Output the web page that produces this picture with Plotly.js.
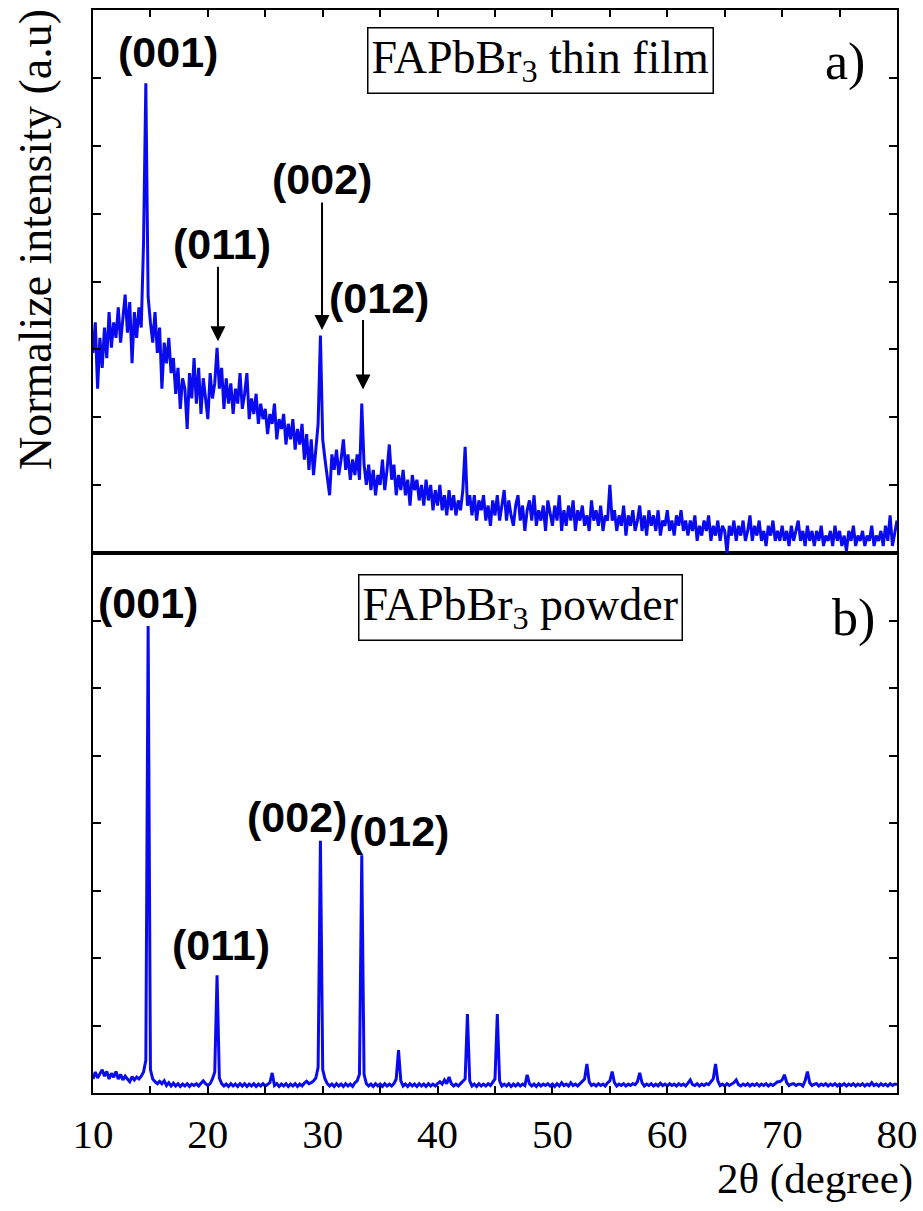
<!DOCTYPE html>
<html><head><meta charset="utf-8">
<script src="https://cdn.plot.ly/plotly-3.0.1.min.js"></script>
<style>html,body{margin:0;padding:0;background:#fff}</style>
</head><body><div id="chart" style="width:923px;height:1211px"></div>
<script>
// 2-theta sampling grid (degrees)
const twoThetaStart = 10;
const twoThetaStep = 0.2;

// a) FAPbBr3 thin film, normalized intensity (one value per 0.2 deg, 10..80)
const thinFilmIntensity = [
0.426,0.491,0.350,0.458,0.394, 0.480,0.415,0.513,0.437,0.491, 0.458,0.523,0.448,0.502,0.550, 0.469,0.534,0.404,0.513,0.458,
0.523,0.480,0.660,1.000,0.545, 0.491,0.448,0.513,0.426,0.480, 0.350,0.448,0.404,0.458,0.383, 0.415,0.339,0.394,0.307,0.372,
0.350,0.264,0.383,0.329,0.415, 0.318,0.394,0.296,0.372,0.329, 0.285,0.383,0.329,0.361,0.437, 0.350,0.394,0.307,0.372,0.318,
0.361,0.296,0.350,0.318,0.383, 0.307,0.339,0.383,0.285,0.329, 0.296,0.339,0.275,0.318,0.285, 0.307,0.253,0.296,0.275,0.318,
0.242,0.285,0.264,0.296,0.231, 0.275,0.242,0.285,0.220,0.264, 0.231,0.275,0.199,0.253,0.177, 0.242,0.166,0.220,0.275,0.463,
0.242,0.199,0.156,0.123,0.210, 0.177,0.220,0.166,0.199,0.242, 0.177,0.210,0.156,0.199,0.166, 0.210,0.156,0.318,0.188,0.145,
0.188,0.134,0.177,0.123,0.166, 0.145,0.199,0.134,0.177,0.231, 0.156,0.188,0.123,0.166,0.134, 0.177,0.123,0.156,0.101,0.166,
0.134,0.156,0.112,0.145,0.101, 0.156,0.112,0.145,0.091,0.134, 0.101,0.145,0.091,0.123,0.080, 0.134,0.091,0.123,0.080,0.112,
0.091,0.134,0.226,0.101,0.123, 0.080,0.123,0.069,0.112,0.091, 0.123,0.069,0.101,0.058,0.112, 0.080,0.123,0.069,0.101,0.134,
0.069,0.112,0.080,0.058,0.101, 0.123,0.069,0.101,0.047,0.091, 0.112,0.069,0.123,0.058,0.091, 0.069,0.101,0.047,0.112,0.080,
0.058,0.101,0.069,0.123,0.047, 0.091,0.058,0.101,0.069,0.112, 0.047,0.091,0.069,0.101,0.058, 0.080,0.047,0.112,0.069,0.091,
0.058,0.101,0.047,0.080,0.069, 0.145,0.069,0.091,0.047,0.080, 0.058,0.101,0.037,0.080,0.058, 0.091,0.047,0.069,0.101,0.047,
0.080,0.037,0.091,0.058,0.080, 0.047,0.091,0.037,0.069,0.058, 0.091,0.047,0.069,0.037,0.080, 0.058,0.091,0.047,0.069,0.037,
0.069,0.047,0.080,0.026,0.058, 0.037,0.069,0.047,0.080,0.026, 0.058,0.037,0.069,0.026,0.058, 0.047,0.000,0.058,0.037,0.069,
0.026,0.058,0.037,0.069,0.026, 0.047,0.080,0.026,0.058,0.037, 0.069,0.026,0.047,0.015,0.058, 0.037,0.069,0.026,0.047,0.026,
0.058,0.026,0.047,0.015,0.058, 0.026,0.047,0.069,0.026,0.047, 0.015,0.058,0.026,0.047,0.015, 0.047,0.026,0.058,0.015,0.037,
0.026,0.047,0.015,0.058,0.026, 0.047,0.015,0.037,0.004,0.047, 0.026,0.058,0.015,0.037,0.026, 0.047,0.015,0.037,0.026,0.058,
0.015,0.037,0.026,0.047,0.015, 0.058,0.026,0.080,0.015,0.047,
0.069
];

// b) FAPbBr3 powder, normalized intensity (one value per 0.2 deg, 10..80)
const powderIntensity = [
0.030,0.045,0.032,0.040,0.050, 0.036,0.046,0.030,0.042,0.034, 0.046,0.030,0.040,0.028,0.036, 0.030,0.024,0.035,0.028,0.034,
0.030,0.036,0.045,0.070,1.000, 0.050,0.030,0.024,0.020,0.025, 0.020,0.026,0.016,0.022,0.015, 0.021,0.015,0.020,0.014,0.019,
0.015,0.020,0.014,0.019,0.016, 0.020,0.015,0.021,0.026,0.020, 0.016,0.020,0.030,0.045,0.252, 0.032,0.020,0.015,0.019,0.014,
0.020,0.015,0.019,0.014,0.020, 0.015,0.020,0.014,0.019,0.015, 0.020,0.014,0.019,0.015,0.020, 0.015,0.019,0.022,0.043,0.016,
0.020,0.014,0.019,0.015,0.020, 0.014,0.019,0.015,0.020,0.014, 0.019,0.015,0.021,0.025,0.020, 0.022,0.026,0.032,0.055,0.540,
0.050,0.030,0.020,0.015,0.019, 0.014,0.020,0.015,0.019,0.014, 0.020,0.015,0.019,0.014,0.022, 0.026,0.040,0.509,0.040,0.020,
0.015,0.019,0.014,0.020,0.015, 0.019,0.014,0.020,0.015,0.019, 0.015,0.020,0.030,0.092,0.026, 0.015,0.019,0.014,0.020,0.015,
0.019,0.014,0.020,0.015,0.019, 0.014,0.020,0.015,0.019,0.015, 0.020,0.024,0.019,0.028,0.020, 0.034,0.020,0.015,0.019,0.015,
0.020,0.024,0.030,0.169,0.026, 0.015,0.019,0.014,0.020,0.015, 0.019,0.015,0.020,0.016,0.024, 0.030,0.169,0.026,0.015,0.019,
0.015,0.020,0.014,0.019,0.015, 0.020,0.015,0.019,0.016,0.039, 0.020,0.015,0.019,0.014,0.020, 0.015,0.019,0.016,0.020,0.015,
0.019,0.014,0.020,0.015,0.022, 0.016,0.019,0.015,0.022,0.016, 0.019,0.015,0.020,0.024,0.030, 0.062,0.024,0.016,0.019,0.015,
0.020,0.016,0.019,0.015,0.022, 0.026,0.046,0.022,0.015,0.019, 0.016,0.020,0.015,0.019,0.016, 0.020,0.018,0.024,0.043,0.022,
0.015,0.019,0.016,0.020,0.015, 0.019,0.015,0.021,0.016,0.019, 0.015,0.020,0.016,0.019,0.015, 0.020,0.016,0.019,0.015,0.021,
0.028,0.018,0.016,0.020,0.015, 0.019,0.016,0.020,0.018,0.024, 0.030,0.062,0.026,0.016,0.019, 0.015,0.020,0.016,0.019,0.022,
0.028,0.018,0.015,0.019,0.016, 0.020,0.015,0.019,0.016,0.020, 0.015,0.019,0.016,0.020,0.015, 0.019,0.016,0.020,0.024,0.024,
0.028,0.039,0.022,0.016,0.019, 0.020,0.016,0.019,0.019,0.015, 0.026,0.046,0.022,0.016,0.019, 0.020,0.015,0.019,0.016,0.020,
0.015,0.019,0.016,0.020,0.015, 0.019,0.016,0.020,0.015,0.019, 0.016,0.020,0.015,0.019,0.016, 0.020,0.015,0.019,0.016,0.022,
0.016,0.019,0.015,0.020,0.016, 0.019,0.015,0.020,0.016,0.019,
0.018
];

// axis ticks and labels
const xTickVals = [10,15,20,25,30,35,40,45,50,55,60,65,70,75,80];
const xTickText = ['10','','20','','30','','40','','50','','60','','70','','80'];
const yTickVals = [0.1445,0.289,0.4335,0.578,0.7225,0.867,1.0115];
const yRange = [0,1.156];

// peak labels
const filmPeakLabels = ['(001)','(011)','(002)','(012)'];
const filmPeakLabelX = [16.53,21.23,29.94,34.9];
const filmPeakLabelY = [1.066,0.658,0.796,0.543];
const filmArrowX = [20.88,29.94,33.51];
const filmArrowY = [0.451,0.475,0.348];
const filmArrowLen = [76,129,71];
const powderPeakLabels = ['(001)','(011)','(002)','(012)'];
const powderPeakLabelX = [14.79,21.14,27.76,36.64];
const powderPeakLabelY = [1.048,0.3165,0.590,0.560];

const blue = '#0a0af0';
const serif = 'Liberation Serif, Times New Roman, serif';
const sans = 'Liberation Sans, Arial, sans-serif';

const traces = [
  {type:'scatter', mode:'lines', x0:twoThetaStart, dx:twoThetaStep, y:powderIntensity,
   xaxis:'x', yaxis:'y', line:{color:blue, width:3}, hoverinfo:'skip'},
  {type:'scatter', mode:'lines', x0:twoThetaStart, dx:twoThetaStep, y:thinFilmIntensity,
   xaxis:'x2', yaxis:'y2', line:{color:blue, width:3}, hoverinfo:'skip'}
];

const frame = {showline:true, linecolor:'#000', linewidth:2, showgrid:false, zeroline:false,
  ticks:'inside', tickcolor:'#000', tickwidth:2};

const annotations = [];
annotations.push({xref:'paper', yref:'paper', x:-0.0721, y:0.7876, xanchor:'center', yanchor:'middle',
  text:'Normalize intensity (a.u)', textangle:-90, showarrow:false, font:{family:serif, size:46, color:'#000'}});
annotations.push({xref:'paper', yref:'paper', x:1.0224, y:-0.0790, xanchor:'right', yanchor:'middle',
  text:'2θ (degree)', showarrow:false, font:{family:serif, size:43, color:'#000'}});
annotations.push({xref:'x2', yref:'y2', x:49.0, y:1.048, xanchor:'center', yanchor:'middle',
  text:'FAPbBr<sub>3</sub> thin film', showarrow:false, bordercolor:'#000', borderwidth:1.5, borderpad:3,
  font:{family:serif, size:46, color:'#000'}});
annotations.push({xref:'x', yref:'y', x:47.18, y:1.039, xanchor:'center', yanchor:'middle',
  text:'FAPbBr<sub>3</sub> powder', showarrow:false, bordercolor:'#000', borderwidth:1.5, borderpad:3,
  font:{family:serif, size:46, color:'#000'}});
annotations.push({xref:'x2', yref:'y2', x:75.47, y:1.046, text:'a)', showarrow:false,
  font:{family:serif, size:52, color:'#000'}});
annotations.push({xref:'x', yref:'y', x:76.17, y:1.016, text:'b)', showarrow:false,
  font:{family:serif, size:52, color:'#000'}});
filmPeakLabels.forEach((t,i)=>annotations.push({xref:'x2', yref:'y2', x:filmPeakLabelX[i], y:filmPeakLabelY[i],
  text:'<b>'+t+'</b>', showarrow:false, font:{family:sans, size:43, color:'#000'}}));
powderPeakLabels.forEach((t,i)=>annotations.push({xref:'x', yref:'y', x:powderPeakLabelX[i], y:powderPeakLabelY[i],
  text:'<b>'+t+'</b>', showarrow:false, font:{family:sans, size:43, color:'#000'}}));
filmArrowX.forEach((x,i)=>annotations.push({xref:'x2', yref:'y2', x:x, y:filmArrowY[i], ax:0, ay:-filmArrowLen[i],
  text:'', showarrow:true, arrowhead:2, arrowsize:1.5, arrowwidth:2, arrowcolor:'#000', standoff:0}));

const layout = {
  width:923, height:1211, margin:{l:93, r:26, t:10, b:118, pad:0},
  paper_bgcolor:'#fff', plot_bgcolor:'#fff', showlegend:false,
  xaxis:Object.assign({}, frame, {anchor:'y', range:[10,80], mirror:true, tickmode:'array',
    tickvals:xTickVals, ticktext:xTickText, ticklen:7, ticklabelstandoff:4,
    tickfont:{family:serif, size:41, color:'#000'}}),
  xaxis2:Object.assign({}, frame, {anchor:'y2', range:[10,80], side:'top', mirror:true, tickmode:'array',
    tickvals:xTickVals, ticklen:7, showticklabels:false}),
  yaxis:Object.assign({}, frame, {anchor:'x', domain:[0,0.4986], range:yRange, mirror:'ticks',
    tickmode:'array', tickvals:yTickVals, ticklen:8, showticklabels:false}),
  yaxis2:Object.assign({}, frame, {anchor:'x2', domain:[0.4986,1], range:yRange, mirror:'ticks',
    tickmode:'array', tickvals:yTickVals, ticklen:8, showticklabels:false}),
  annotations:annotations
};

Plotly.newPlot('chart', traces, layout, {staticPlot:true, displayModeBar:false});
</script>
</body></html>
